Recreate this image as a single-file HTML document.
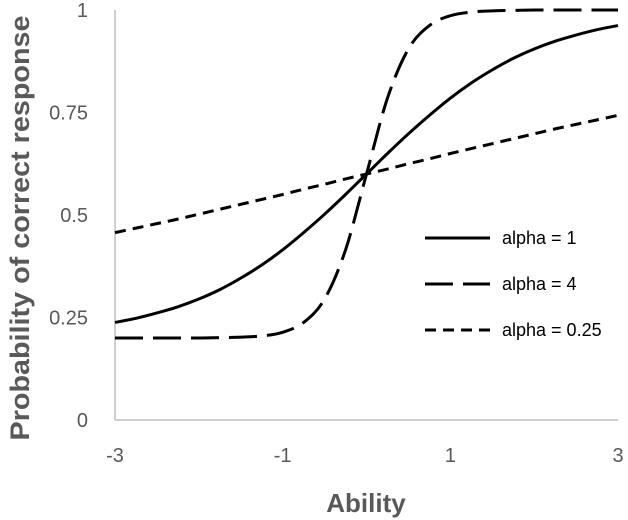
<!DOCTYPE html>
<html><head><meta charset="utf-8"><style>
html,body{margin:0;padding:0;background:#fff;}
svg{display:block;font-family:"Liberation Sans",sans-serif;}
</style></head><body>
<svg id="chart" width="628" height="520" viewBox="0 0 628 520">
<g id="axes"></g><g id="series"></g><g id="legend"></g>
</svg>
<script>
const abilities=[-3,-2.75,-2.5,-2.25,-2,-1.75,-1.5,-1.25,-1,-0.75,-0.5,-0.25,0,0.25,0.5,0.75,1,1.25,1.5,1.75,2,2.25,2.5,2.75,3];
const alpha1=[.238,.248,.261,.276,.295,.318,.346,.378,.415,.457,.502,.550,.600,.650,.698,.743,.785,.822,.854,.882,.905,.924,.939,.952,.962];
const alpha4=[.200,.200,.200,.200,.200,.201,.202,.205,.214,.238,.295,.415,.600,.785,.905,.962,.986,.995,.998,.999,1,1,1,1,1];
const alpha025=[.457,.468,.479,.490,.502,.514,.526,.538,.550,.563,.575,.588,.600,.612,.625,.637,.650,.662,.674,.686,.698,.710,.721,.732,.743];
const seriesNames=["alpha = 1","alpha = 4","alpha = 0.25"];
const xTicks=[-3,-1,1,3];
const yTicks=[0,0.25,0.5,0.75,1];
const yTickLabels=["0","0.25","0.5","0.75","1"];

const NS="http://www.w3.org/2000/svg";
const X0=115,X1=618,Y0=420,Y1=10;
const xs=v=>X0+(v+3)/6*(X1-X0);
const ys=v=>Y0-v*(Y0-Y1);
function mk(tag,attrs,parent){const e=document.createElementNS(NS,tag);for(const k in attrs)e.setAttribute(k,attrs[k]);parent.appendChild(e);return e;}
const axes=document.getElementById('axes'),ser=document.getElementById('series'),leg=document.getElementById('legend');
let a=mk('line',{x1:X0,y1:Y1,x2:X0,y2:Y0,stroke:'#bfbfbf','stroke-width':1.5},axes);


a=mk('line',{x1:X0,y1:Y0,x2:X1,y2:Y0,stroke:'#bfbfbf','stroke-width':1.5},axes);


yTicks.forEach((t,i)=>{const e=mk('text',{x:88,y:ys(t)+7,'text-anchor':'end','font-size':20,fill:'#595959'},axes);e.textContent=yTickLabels[i];

});
xTicks.forEach(t=>{const e=mk('text',{x:xs(t),y:462,'text-anchor':'middle','font-size':20,fill:'#595959'},axes);e.textContent=String(t);

});
let t=mk('text',{x:366,y:512,'text-anchor':'middle','font-size':26,'font-weight':'bold',fill:'#595959'},axes);t.textContent='Ability';


t=mk('text',{x:0,y:0,transform:'translate(29,228) rotate(-90)','text-anchor':'middle','font-size':27,'font-weight':'bold',fill:'#595959',textLength:425,lengthAdjust:'spacingAndGlyphs'},axes);t.textContent='Probability of correct response';



function path(vals){const p=abilities.map((x,i)=>[xs(x),ys(vals[i])]);let d='M'+p[0][0]+','+p[0][1];
for(let i=0;i<p.length-1;i++){const p0=p[Math.max(0,i-1)],p1=p[i],p2=p[i+1],p3=p[Math.min(p.length-1,i+2)];
const c1x=p1[0]+(p2[0]-p0[0])/6,c1y=p1[1]+(p2[1]-p0[1])/6,c2x=p2[0]-(p3[0]-p1[0])/6,c2y=p2[1]-(p3[1]-p1[1])/6;
d+=` C${c1x},${c1y} ${c2x},${c2y} ${p2[0]},${p2[1]}`;}return d;}
const dashes=['none','28,10','11,7'];
const names=['line-alpha-1','line-alpha-4','line-alpha-0-25'];
[alpha1,alpha4,alpha025].forEach((v,i)=>{const e=mk('path',{d:path(v),fill:'none',stroke:'#000','stroke-width':3,'stroke-dasharray':dashes[i]},ser);


const ly=238+i*46;
const l=mk('line',{x1:425,y1:ly,x2:490,y2:ly,stroke:'#000','stroke-width':3,'stroke-dasharray':dashes[i]},leg);


const tx=mk('text',{x:502,y:ly+6,'font-size':18,fill:'#000'},leg);tx.textContent=seriesNames[i];

});
</script>
</body></html>
